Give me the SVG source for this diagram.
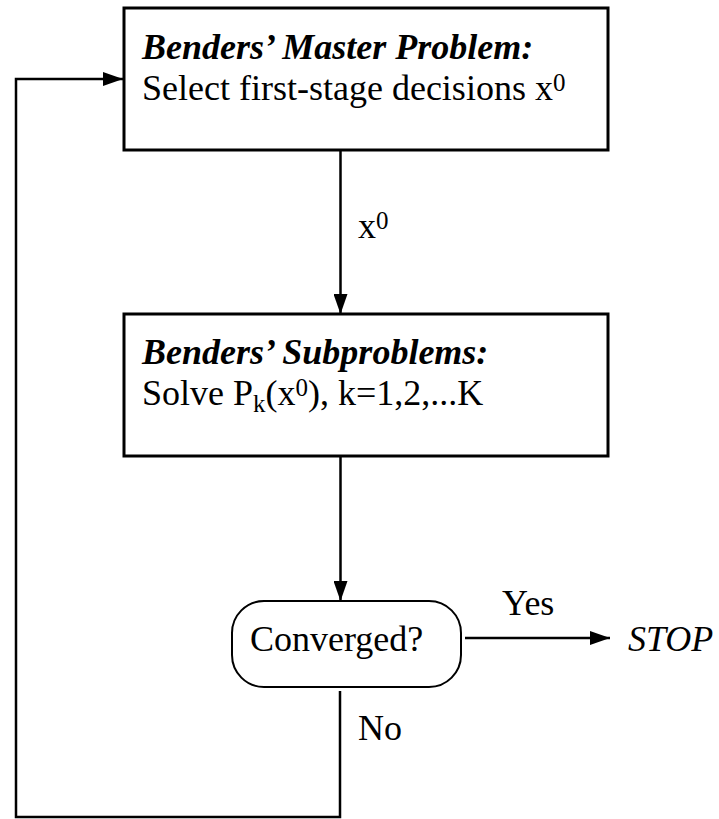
<svg xmlns="http://www.w3.org/2000/svg" width="719" height="819" viewBox="0 0 719 819">
  <style>
    text { font-family: "Liberation Serif", "Times New Roman", serif; font-size: 36px; fill: #000; }
    .title { font-weight: bold; font-style: italic; }
    .it { font-style: italic; }
    .small { font-size: 25px; }
    .box { fill: #fff; stroke: #000; stroke-width: 3; }
    .term { fill: #fff; stroke: #000; stroke-width: 2; }
    .wire { fill: none; stroke: #000; stroke-width: 2.5; }
  </style>
  <defs>
    <marker id="arrow" viewBox="0 0 20 14" refX="20" refY="7" markerWidth="20" markerHeight="14" markerUnits="userSpaceOnUse" orient="auto">
      <path d="M0,0 L20,7 L0,14 Z" fill="#000"/>
    </marker>
  </defs>

  <rect width="719" height="819" fill="#fff"/>

  <!-- connectors -->
  <g id="connectors">
    <line class="wire" x1="340.5" y1="150" x2="340.5" y2="314" marker-end="url(#arrow)"/>
    <line class="wire" x1="340.5" y1="456" x2="340.5" y2="601" marker-end="url(#arrow)"/>
    <line class="wire" x1="465" y1="638" x2="610" y2="638" marker-end="url(#arrow)"/>
    <polyline class="wire" points="340,691 340,817 16,817 16,79 123,79" marker-end="url(#arrow)"/>
    <text x="358" y="238">x<tspan class="small" dy="-9">0</tspan></text>
    <text x="502" y="615">Yes</text>
    <text x="358" y="740">No</text>
  </g>

  <!-- master problem -->
  <g id="master">
    <rect class="box" x="124" y="8" width="484" height="142"/>
    <text class="title" x="142" y="59">Benders’ Master Problem:</text>
    <text x="142" y="100">Select first-stage decisions x<tspan class="small" dy="-9">0</tspan></text>
  </g>

  <!-- subproblems -->
  <g id="subproblems">
    <rect class="box" x="124" y="314" width="484" height="142"/>
    <text class="title" x="142" y="364">Benders’ Subproblems:</text>
    <text x="142" y="405">Solve P<tspan class="small" dy="7">k</tspan><tspan dy="-7">(x</tspan><tspan class="small" dy="-9">0</tspan><tspan dy="9">), k=1,2,...K</tspan></text>
  </g>

  <!-- convergence test -->
  <g id="converged">
    <rect class="term" x="232" y="601" width="229" height="86" rx="32" ry="32"/>
    <text x="250" y="651">Converged?</text>
  </g>

  <!-- terminal -->
  <g id="stop">
    <text class="it" x="628" y="651">STOP</text>
  </g>
</svg>
